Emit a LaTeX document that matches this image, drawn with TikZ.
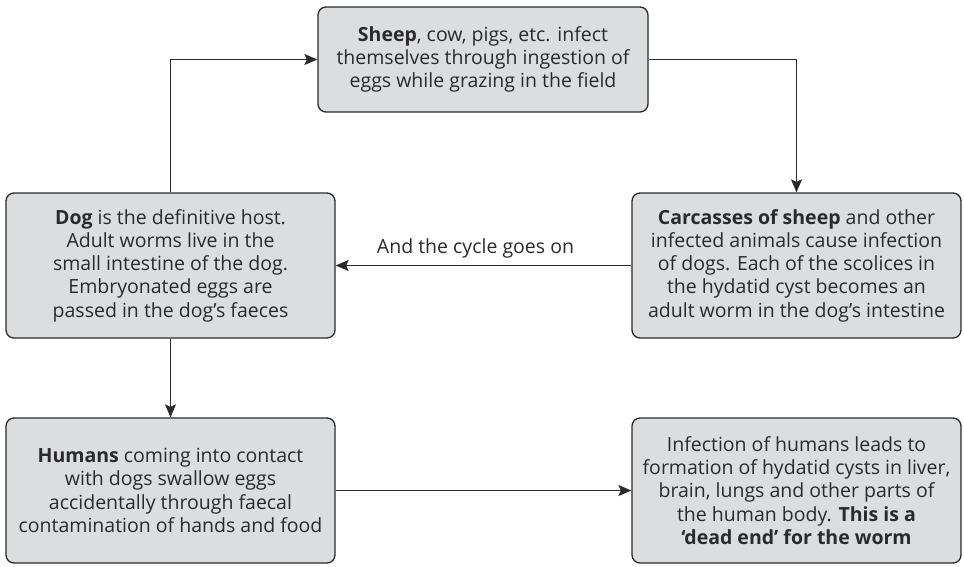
\documentclass[tikz,border=0pt]{standalone}
\usepackage{fontspec}
\setmainfont{Open Sans}
\usetikzlibrary{arrows.meta}
\definecolor{boxfill}{HTML}{DCDDDF}
\definecolor{boxline}{HTML}{2B2A2A}
\tikzset{
  stage/.style={draw=boxline, fill=boxfill, line width=1.3pt, rounded corners=8pt,
    minimum width=329pt, minimum height=145pt, inner sep=0pt, align=center,
    text=boxline},
  link/.style={draw=boxline, line width=1.3pt,
    -{Stealth[length=13pt, width=11pt, inset=2.5pt]}},
}
\begin{document}
\begin{tikzpicture}[x=1pt, y=-1pt, font=\fontsize{19.5}{23.2}\selectfont]
  \useasboundingbox (0,0) rectangle (964,566);
  % Stages of the cycle, laid out on a grid of two columns.
  \node[stage, minimum width=330pt, minimum height=105pt] (sheep) at (483,59.5)
    {\textbf{Sheep}, cow, pigs, etc. infect\\themselves through ingestion of\\eggs while grazing in the field};
  \node[stage] (dog) at (170.5,265.5)
    {\textbf{Dog} is the definitive host.\\Adult worms live in the\\small intestine of the dog.\\Embryonated eggs are\\passed in the dog’s faeces};
  \node[stage] (carcass) at (796.5,265.5)
    {\textbf{Carcasses of sheep} and other\\infected animals cause infection\\of dogs. Each of the scolices in\\the hydatid cyst becomes an\\adult worm in the dog’s intestine};
  \node[stage] (humans) at (170.5,490.5)
    {\textbf{Humans} coming into contact\\with dogs swallow eggs\\accidentally through faecal\\contamination of hands and food};
  \node[stage] (deadend) at (796.5,490.5)
    {Infection of humans leads to\\formation of hydatid cysts in liver,\\brain, lungs and other parts of\\the human body. \textbf{This is a}\\\textbf{‘dead end’ for the worm}};
  % Connectors: the closed cycle, then the branch into humans.
  \draw[link] (dog.north) |- (sheep.west);
  \draw[link] (sheep.east) -| (carcass.north);
  \draw[link] (carcass.west) -- node[above=3pt, xshift=-8pt, text=boxline] (cyclelabel) {And the cycle goes on} (dog.east);
  \draw[link] (dog.south) -- (humans.north);
  \draw[link] (humans.east) -- (deadend.west);
\end{tikzpicture}
\end{document}
